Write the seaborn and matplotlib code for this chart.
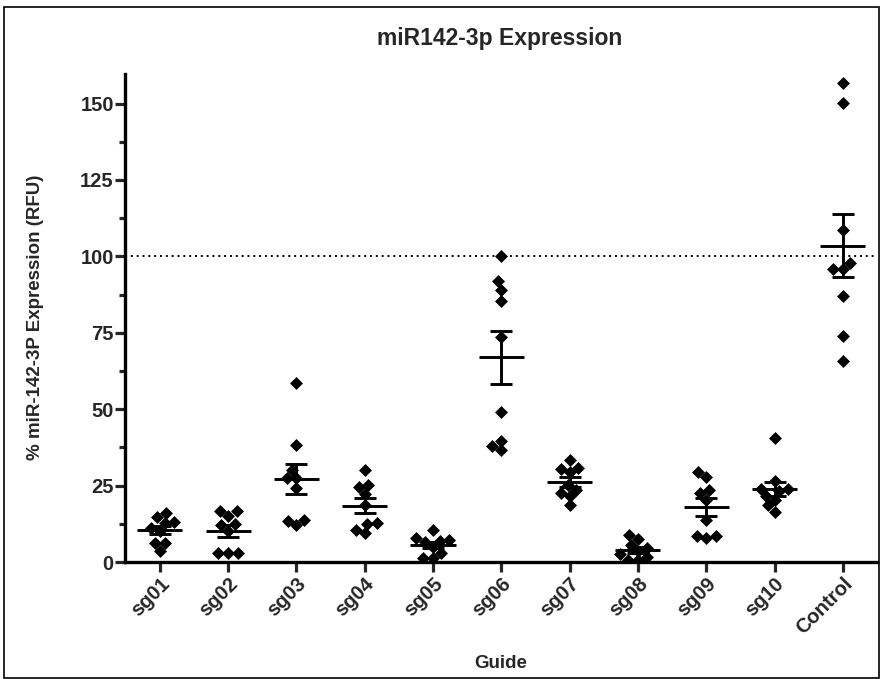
import matplotlib
matplotlib.use('Agg')
import matplotlib.pyplot as plt
from matplotlib.patches import Rectangle
from matplotlib.ticker import MultipleLocator
import seaborn as sns
import pandas as pd
import numpy as np

# values (% expression, RFU)
guides = ['sg01', 'sg02', 'sg03', 'sg04', 'sg05', 'sg06', 'sg07', 'sg08', 'sg09', 'sg10', 'Control']
sg01 = [16.1, 14.6, 13.0, 12.6, 11.0, 10.0, 6.3, 6.3, 3.7]
sg02 = [16.6, 16.6, 15.2, 12.3, 12.0, 10.1, 2.8, 2.8, 2.8]
sg03 = [58.5, 38.4, 30.2, 27.5, 27.5, 24.3, 13.7, 13.4, 12.0]
sg04 = [30.2, 25.3, 24.6, 22.3, 18.8, 12.6, 12.3, 10.5, 9.4]
sg05 = [10.4, 7.8, 7.3, 7.0, 6.6, 4.8, 3.0, 1.2, 1.2]
sg06 = [100.0, 91.9, 89.1, 85.3, 73.7, 49.2, 39.7, 37.8, 36.7]
sg07 = [33.3, 30.8, 30.5, 29.5, 25.3, 23.7, 22.6, 21.5, 18.5]
sg08 = [8.7, 7.6, 5.5, 4.5, 3.5, 2.5, 1.5, 0.8, 0.5]
sg09 = [29.3, 27.8, 23.7, 22.6, 20.4, 13.7, 8.4, 8.4, 8.0]
sg10 = [40.6, 26.6, 24.0, 23.9, 23.2, 21.5, 20.4, 18.5, 16.3]
control = [156.6, 150.2, 108.5, 97.9, 95.8, 95.8, 87.0, 74.1, 65.9]
yticks = [0, 25, 50, 75, 100, 125, 150]
reference_level = 100

groups = [sg01, sg02, sg03, sg04, sg05, sg06, sg07, sg08, sg09, sg10, control]
df = pd.DataFrame({
    'guide': np.repeat(guides, [len(g) for g in groups]),
    'expr': np.concatenate(groups),
})

sns.set_style('white')
plt.rcParams['font.family'] = ['Liberation Sans', 'DejaVu Sans']
plt.rcParams['font.weight'] = 'bold'

fig = plt.figure(figsize=(8.82, 6.79), dpi=100)
ax = fig.add_axes([0.1417, 0.1723, 0.8526, 0.7202])

sns.swarmplot(data=df, x='guide', y='expr', order=guides, marker='D',
              color='black', size=6.6, linewidth=0, ax=ax, zorder=3)

# mean +/- SEM like the Prism original
stats = df.groupby('guide', sort=False)['expr'].agg(['mean', 'sem']).reindex(guides)
xpos = np.arange(len(guides))
ax.hlines(stats['mean'], xpos - 0.33, xpos + 0.33, color='black', lw=2.1, zorder=4)
ax.errorbar(xpos, stats['mean'], yerr=stats['sem'], fmt='none', ecolor='black',
            elinewidth=2.1, capsize=8, capthick=2.1, zorder=4)

ax.axhline(reference_level, color='black', ls=(0, (1, 2)), lw=1.4, zorder=2)

ax.set_xlim(-0.51, 10.5)
ax.set_ylim(0, 160)
ax.set_yticks(yticks)
ax.yaxis.set_minor_locator(MultipleLocator(12.5))
for s in ['top', 'right']:
    ax.spines[s].set_visible(False)
for s in ['left', 'bottom']:
    ax.spines[s].set_linewidth(2.4)
    ax.spines[s].set_color('black')
ax.spines['left'].set_bounds(0, 159.7)

ax.tick_params(axis='y', which='major', direction='out', length=7, width=2.3,
               labelsize=14.5, pad=1, left=True)
ax.tick_params(axis='y', which='minor', direction='out', length=4.5, width=2.3, left=True)
ax.tick_params(axis='x', which='major', direction='out', length=7, width=2.3,
               labelsize=14.5, pad=2, bottom=True)
for lab in ax.get_xticklabels():
    lab.set_rotation(45)
    lab.set_ha('right')
    lab.set_rotation_mode('anchor')
    lab.set_fontweight('bold')
for lab in ax.get_yticklabels():
    lab.set_fontweight('bold')

ax.set_xlabel('Guide', fontsize=13.5, fontweight='bold', labelpad=12)
ax.set_ylabel('% miR-142-3P Expression (RFU)', fontsize=13.5, fontweight='bold', labelpad=26)
fig.text(0.567, 0.944, 'miR142-3p Expression', ha='center', va='center',
         fontsize=16.5, fontweight='bold')

# outer frame of the exported figure
fig.patches.append(Rectangle((4 / 882, 1 / 679), 875 / 882, 671 / 679,
                             transform=fig.transFigure, fill=False,
                             edgecolor='black', lw=1.2))

fig.savefig('out.png', dpi=100)
